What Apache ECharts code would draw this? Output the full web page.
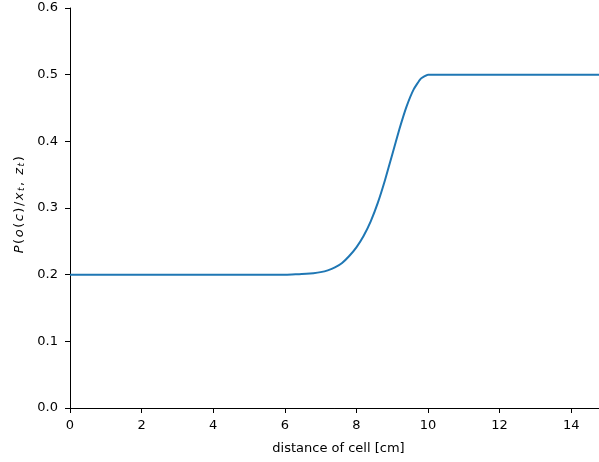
<!DOCTYPE html>
<html>
<head>
<meta charset="utf-8">
<script src="https://cdn.jsdelivr.net/npm/echarts@6/dist/echarts.min.js"></script>
<style>
  html, body { margin: 0; padding: 0; background: #fff; }
  #chart { width: 599px; height: 462px; }
</style>
</head>
<body>
<div id="chart"></div>
<script>
// Distance of the cell from the sensor [cm]
const distance = [
  0, 1, 2, 3, 4, 5, 6.0,
  6.2, 6.4, 6.6, 6.8, 7.0, 7.2, 7.4, 7.6, 7.8, 8.0,
  8.2, 8.4, 8.6, 8.8, 9.0, 9.2, 9.4, 9.6, 9.8, 10.0,
  11, 12, 13, 14, 15
];
// Occupancy probability P(o(c) | x_t, z_t)
const probability = [
  0.200, 0.200, 0.200, 0.200, 0.200, 0.200, 0.200,
  0.2003, 0.2007, 0.2012, 0.2022, 0.2038, 0.2065, 0.2108, 0.2175, 0.228, 0.241,
  0.258, 0.280, 0.308, 0.342, 0.380, 0.418, 0.452, 0.478, 0.494, 0.500,
  0.500, 0.500, 0.500, 0.500, 0.500
];
const xTicks = [0, 2, 4, 6, 8, 10, 12, 14];
const yTicks = [0.0, 0.1, 0.2, 0.3, 0.4, 0.5, 0.6];

const font = 'DejaVu Sans';
const chart = echarts.init(document.getElementById('chart'), null, { renderer: 'canvas' });

// math-style italic tokens for the y-axis label
const tok = { fontFamily: font, fontSize: 13, color: '#000', padding: [0, 1.5, 0, 0] };
const yName =
  '{i|P}{n|(}{i|o}{n|(}{i|c}{n|)}{n|/}{i|x}{s|t}{n|,}{n| }{i|z}{s|t}{n|)}';

chart.setOption({
  animation: false,
  backgroundColor: '#ffffff',
  // the plot area runs slightly past the right edge of the canvas
  grid: {
    left: 70, top: 8, width: 537, height: 400,
    containLabel: false, outerBoundsMode: 'none'
  },
  xAxis: [{
    type: 'value',
    min: 0,
    max: 15,
    interval: 2,
    name: 'distance of cell [cm]',
    nameLocation: 'middle',
    nameGap: 34,
    nameTextStyle: { fontFamily: font, fontSize: 13, color: '#000' },
    axisLine: { show: true, onZero: false, lineStyle: { color: '#000', width: 1 } },
    axisTick: { show: true, inside: false, length: 5, lineStyle: { color: '#000', width: 1 } },
    axisLabel: {
      fontFamily: font, fontSize: 13, color: '#000', margin: 11,
      formatter: v => xTicks.includes(v) ? String(v) : ''
    },
    splitLine: { show: false }
  }, {
    type: 'value',
    position: 'top',
    min: 0,
    max: 15,
    axisLine: { show: true, lineStyle: { color: '#000', width: 1 } },
    axisTick: { show: false },
    axisLabel: { show: false },
    splitLine: { show: false }
  }],
  yAxis: {
    type: 'value',
    min: 0,
    max: 0.6,
    interval: 0.1,
    name: yName,
    nameLocation: 'middle',
    nameGap: 44,
    nameTextStyle: {
      fontFamily: font, fontSize: 13, color: '#000',
      padding: [0, 0, 0, 8],
      rich: {
        i: Object.assign({}, tok, { fontStyle: 'italic' }),
        n: Object.assign({}, tok),
        s: Object.assign({}, tok, { fontSize: 9, fontStyle: 'italic', verticalAlign: 'bottom', lineHeight: 9 })
      }
    },
    axisLine: { show: true, onZero: false, lineStyle: { color: '#000', width: 1 } },
    axisTick: { show: true, inside: false, length: 5, lineStyle: { color: '#000', width: 1 } },
    axisLabel: {
      fontFamily: font, fontSize: 13, color: '#000', margin: 12,
      formatter: v => v.toFixed(1)
    },
    splitLine: { show: false }
  },
  series: [{
    type: 'line',
    data: distance.map((d, i) => [d, probability[i]]),
    showSymbol: false,
    smooth: 0.15,
    clip: true,
    lineStyle: { color: '#1f77b4', width: 2 },
    itemStyle: { color: '#1f77b4' }
  }]
});
</script>
</body>
</html>
